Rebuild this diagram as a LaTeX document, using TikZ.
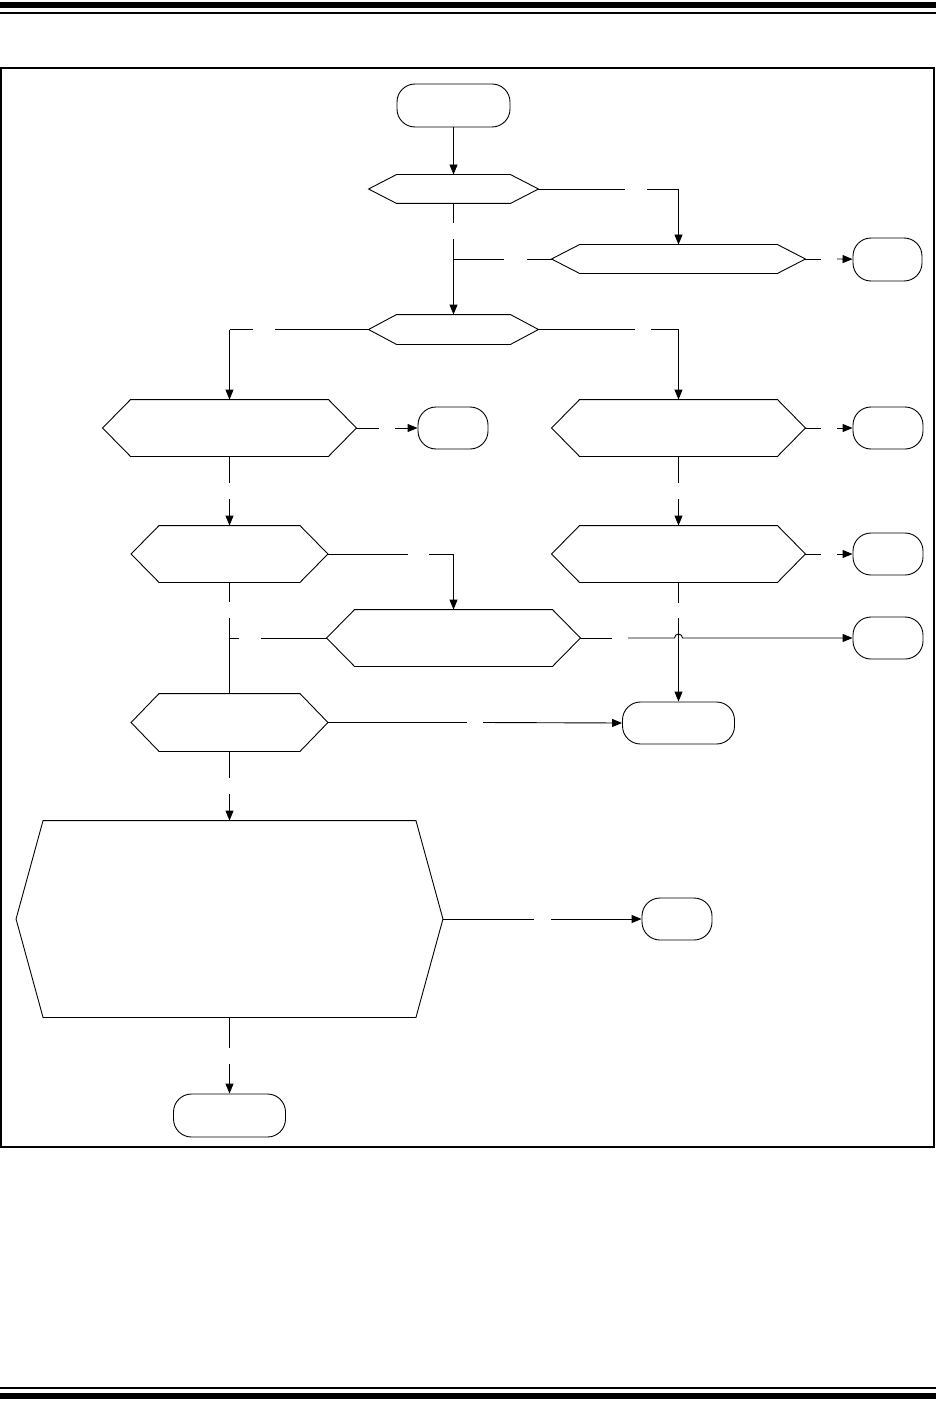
\documentclass[tikz,border=0pt]{standalone}
\usetikzlibrary{arrows.meta}

\tikzset{
  hexa/.style={rectangle, inner sep=0pt},
  term/.style={draw, rectangle, rounded corners=18pt, inner sep=0pt,
    minimum height=43pt, line width=0.9pt},
  arr/.style={-{Triangle[length=10pt,width=8pt]}},
}

\begin{document}
\begin{tikzpicture}[x=1pt, y=-1pt, line width=0.9pt]
    \useasboundingbox (0,0) rectangle (936,1415);

    % rules at top and bottom of the page
    \fill (0,2) rectangle (936,8);
    \fill (0,12) rectangle (936,14);
    \fill (0,1387) rectangle (936,1389);
    \fill (0,1393) rectangle (936,1399);

    % frame
    \draw[line width=1.3pt] (1,68) rectangle (934,1147);

    % --- nodes ---
    \node[term, minimum width=113pt] (start) at (453.5,105.5) {};
    \node[hexa, minimum width=169pt, minimum height=28pt] (d1) at (453.5,189) {};
    \node[hexa, minimum width=253pt, minimum height=28pt] (d3) at (678.5,259) {};
    \node[term, minimum width=69pt] (t1) at (887.5,259.5) {};
    \node[hexa, minimum width=169pt, minimum height=29pt] (d2) at (453.5,329.5) {};

    \node[hexa, minimum width=253pt, minimum height=56pt] (d4) at (229.5,428) {};
    \node[term, minimum width=70pt, minimum height=42pt] (t2) at (453,428) {};
    \node[hexa, minimum width=253pt, minimum height=56pt] (d5) at (678.5,428) {};
    \node[term, minimum width=70pt, minimum height=42pt] (t3) at (888,428) {};

    \node[hexa, minimum width=196pt, minimum height=56pt] (d7) at (229.5,554) {};
    \node[hexa, minimum width=253pt, minimum height=56pt] (d6) at (678.5,554) {};
    \node[term, minimum width=70pt, minimum height=42pt] (t4) at (888,554) {};

    \node[hexa, minimum width=253pt, minimum height=56pt] (d8) at (453.5,638) {};
    \node[term, minimum width=70pt, minimum height=42pt] (t5) at (888,638) {};

    \node[hexa, minimum width=196pt, minimum height=57pt] (d9) at (229.5,722.5) {};
    \node[term, minimum width=112pt, minimum height=42pt] (t6) at (678.5,723) {};

    \node[hexa, minimum width=426pt, minimum height=196pt] (d10) at (229.5,919) {};
    \node[term, minimum width=70pt, minimum height=42pt] (t7) at (677,919) {};
    \node[term, minimum width=112pt] (t8) at (229.5,1115.5) {};

    % hexagon outlines (name/slant)
    \foreach \n/\s in {d1/28, d2/28, d3/28, d4/28, d5/28, d6/28, d7/28, d8/28, d9/28, d10/27}
      \draw (\n.west) -- ([xshift=\s pt]\n.north west) -- ([xshift=-\s pt]\n.north east)
        -- (\n.east) -- ([xshift=-\s pt]\n.south east) -- ([xshift=\s pt]\n.south west) -- cycle;

    % --- ends of the gaps left in the connectors ---
    \coordinate (g1a) at (453.5,223);  \coordinate (g1b) at (453.5,239);
    \coordinate (j1)  at (453.5,259);
    \coordinate (g2a) at (504,259);    \coordinate (g2b) at (527,259);
    \coordinate (g3a) at (625,189);    \coordinate (g3b) at (647,189);
    \coordinate (g4a) at (821,259);    \coordinate (g4b) at (837,259);
    \coordinate (g5a) at (275,329.5);  \coordinate (g5b) at (253,329.5);
    \coordinate (g6a) at (635,329.5);  \coordinate (g6b) at (651,329.5);
    \coordinate (g7a) at (379,428);    \coordinate (g7b) at (395,428);
    \coordinate (g8a) at (821,428);    \coordinate (g8b) at (837,428);
    \coordinate (g9a) at (678.5,483);  \coordinate (g9b) at (678.5,499);
    \coordinate (g10a) at (821,554);   \coordinate (g10b) at (837,554);
    \coordinate (g11a) at (229.5,483); \coordinate (g11b) at (229.5,499);
    \coordinate (g12a) at (408,554);   \coordinate (g12b) at (429,554);
    \coordinate (g13a) at (229.5,602); \coordinate (g13b) at (229.5,618);
    \coordinate (j2)  at (229.5,638);
    \coordinate (g14a) at (261,638);   \coordinate (g14b) at (239,638);
    \coordinate (g15a) at (612,638);   \coordinate (g15b) at (628,638);
    \coordinate (hop) at (674.5,638);
    \coordinate (g16a) at (678.5,603); \coordinate (g16b) at (678.5,618);
    \coordinate (g17a) at (467,722.5); \coordinate (g17b) at (483,722.5);
    \coordinate (g18a) at (229.5,778); \coordinate (g18b) at (229.5,794);
    \coordinate (g19a) at (534,919);   \coordinate (g19b) at (551,919);
    \coordinate (g20a) at (229.5,1048);\coordinate (g20b) at (229.5,1064);

    % --- connectors ---
    \draw[arr] (start) -- (d1);
    \draw (d1) -- (g1a);
    \draw[arr] (g1b) -- (d2);
    \draw (d3.west) -- (g2b);
    \draw (g2a) -- (j1);
    \draw (d1.east) -- (g3a);
    \draw[arr] (g3b) -| (d3.north);
    \draw (d3.east) -- (g4a);
    \draw[arr] (g4b) -- (t1);

    \draw[line width=1.6pt] (d2.west) -- (g5a);
    \draw[line width=1.6pt] (g5b) -- (g5b -| d4.north);
    \draw[arr] (g5b -| d4.north) -- (d4.north);
    \draw[line width=1.6pt] (d2.east) -- (g6a);
    \draw[line width=1.6pt] (g6b) -- (g6b -| d5.north);
    \draw[arr] (g6b -| d5.north) -- (d5.north);

    \draw (d4.east) -- (g7a);
    \draw[arr] (g7b) -- (t2);
    \draw (d5.east) -- (g8a);
    \draw[arr] (g8b) -- (t3);
    \draw (d5.south) -- (g9a);
    \draw[arr] (g9b) -- (d6.north);
    \draw (d6.east) -- (g10a);
    \draw[arr] (g10b) -- (t4);

    \draw (d4.south) -- (g11a);
    \draw[arr] (g11b) -- (d7.north);
    \draw (d7.east) -- (g12a);
    \draw[arr] (g12b) -| (d8.north);
    \draw (d7.south) -- (g13a);
    \draw (g13b) -- (d9.north);
    \draw (d8.west) -- (g14a);
    \draw (g14b) -- (j2);

    % jump over the line from d6
    \draw (d8.east) -- (g15a);
    \draw[arr] (g15b) -- (hop) arc[start angle=180, end angle=360, radius=4] -- (t5.west);
    \draw (d6.south) -- (g16a);
    \draw[arr] (g16b) -- (t6.north);

    \draw (d9.east) -- (g17a);
    \draw[arr] (g17b) -- (t6.west);
    \draw (d9.south) -- (g18a);
    \draw[arr] (g18b) -- (d10.north);
    \draw (d10.east) -- (g19a);
    \draw[arr] (g19b) -- (t7.west);
    \draw (d10.south) -- (g20a);
    \draw[arr] (g20b) -- (t8.north);

\end{tikzpicture}
\end{document}
